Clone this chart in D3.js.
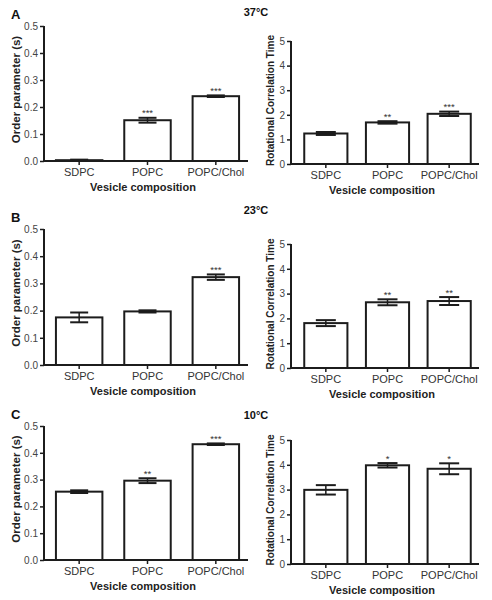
<!DOCTYPE html>
<html>
<head>
<meta charset="utf-8">
<script src="https://cdn.jsdelivr.net/npm/d3@7"></script>
<style>
  html, body { margin: 0; padding: 0; background: #fff; }
  svg { display: block; font-family: "Liberation Sans", Arial, Helvetica, sans-serif; }
</style>
</head>
<body>
<svg id="chart" width="492" height="600"></svg>
<script>
// ---------- data ----------
const categories = ["SDPC", "POPC", "POPC/Chol"];
const panelLetters = ["A", "B", "C"];
const temperatures = ["37°C", "23°C", "10°C"];

const orderTicks = [0, 0.1, 0.2, 0.3, 0.4, 0.5];
const rctTicks = [0, 1, 2, 3, 4, 5];

// Order parameter (s): mean, error, significance per temperature
const order37 = [0.003, 0.151, 0.240];
const order37Err = [0.002, 0.009, 0.003];
const order37Sig = ["", "***", "***"];
const order23 = [0.175, 0.197, 0.323];
const order23Err = [0.018, 0.004, 0.010];
const order23Sig = ["", "", "***"];
const order10 = [0.255, 0.296, 0.432];
const order10Err = [0.005, 0.009, 0.003];
const order10Sig = ["", "**", "***"];

// Rotational correlation time
const rct37 = [1.24, 1.69, 2.04];
const rct37Err = [0.06, 0.05, 0.09];
const rct37Sig = ["", "**", "***"];
const rct23 = [1.81, 2.65, 2.70];
const rct23Err = [0.12, 0.12, 0.16];
const rct23Sig = ["", "**", "**"];
const rct10 = [2.99, 3.98, 3.84];
const rct10Err = [0.19, 0.09, 0.22];
const rct10Sig = ["", "*", "*"];

// ---------- layout ----------
const svg = d3.select("#chart");
const ink = "#1c1c1c";

const rows = [
  { letter: panelLetters[0], temp: temperatures[0], letterY: 19, tempY: 16,
    left:  { vals: order37, err: order37Err, sig: order37Sig, y0: 161, y1: 26 },
    right: { vals: rct37, err: rct37Err, sig: rct37Sig, y0: 164, y1: 41 } },
  { letter: panelLetters[1], temp: temperatures[1], letterY: 222, tempY: 214,
    left:  { vals: order23, err: order23Err, sig: order23Sig, y0: 365, y1: 229 },
    right: { vals: rct23, err: rct23Err, sig: rct23Sig, y0: 368, y1: 244 } },
  { letter: panelLetters[2], temp: temperatures[2], letterY: 419, tempY: 419,
    left:  { vals: order10, err: order10Err, sig: order10Sig, y0: 560, y1: 426 },
    right: { vals: rct10, err: rct10Err, sig: rct10Sig, y0: 564, y1: 440 } }
];

function drawPanel(p, opts) {
  const g = svg.append("g");
  const y = d3.scaleLinear().domain(opts.domain).range([p.y0, p.y1]);
  const x = d3.scaleBand().domain(categories).range(opts.xRange)
    .paddingInner(opts.padIn).paddingOuter(opts.padIn / 2);

  // bars
  g.selectAll("rect.bar").data(categories).join("rect")
    .attr("x", d => x(d))
    .attr("width", x.bandwidth())
    .attr("y", (d, i) => y(p.vals[i]))
    .attr("height", (d, i) => y(0) - y(p.vals[i]))
    .attr("fill", "#fff").attr("stroke", ink).attr("stroke-width", 2);

  // error bars
  const capW = opts.capW;
  categories.forEach((c, i) => {
    const cx = x(c) + x.bandwidth() / 2;
    const hi = y(p.vals[i] + p.err[i]);
    const lo = y(Math.max(0, p.vals[i] - p.err[i]));
    g.append("line").attr("x1", cx).attr("x2", cx).attr("y1", hi).attr("y2", lo)
      .attr("stroke", ink).attr("stroke-width", 1.5);
    [hi, lo].forEach(yy => g.append("line")
      .attr("x1", cx - capW / 2).attr("x2", cx + capW / 2)
      .attr("y1", yy).attr("y2", yy)
      .attr("stroke", ink).attr("stroke-width", 2));
    if (p.sig[i]) {
      g.append("text").attr("x", cx).attr("y", hi - 1.5)
        .attr("text-anchor", "middle").attr("font-size", 9.5)
        .attr("fill", "#333").text(p.sig[i]);
    }
  });

  // y axis
  const yAxis = d3.axisLeft(y).tickValues(opts.ticks).tickFormat(opts.fmt)
    .tickSize(4).tickPadding(2).tickSizeOuter(0);
  const ya = g.append("g").attr("transform", `translate(${opts.axisX},0)`).call(yAxis);
  ya.select(".domain").attr("stroke", ink).attr("stroke-width", 2)
    .attr("d", `M0,${p.y0 + 1}V${p.y1}`);
  ya.selectAll(".tick line").attr("stroke", ink).attr("stroke-width", 1.5);
  ya.selectAll(".tick text").attr("font-size", 10).attr("fill", "#444")
    .attr("font-family", "Liberation Sans, Arial, sans-serif");

  // x axis
  const xAxis = d3.axisBottom(x).tickSize(4).tickPadding(3).tickSizeOuter(0);
  const xa = g.append("g").attr("transform", `translate(0,${p.y0})`).call(xAxis);
  xa.select(".domain").attr("stroke", ink).attr("stroke-width", 2)
    .attr("d", `M${opts.axisX - 1},0H${opts.xEnd}`);
  xa.selectAll(".tick line").attr("stroke", ink).attr("stroke-width", 1.5);
  xa.selectAll(".tick text").attr("font-size", 11).attr("fill", "#333")
    .attr("font-family", "Liberation Sans, Arial, sans-serif");

  // x title
  g.append("text")
    .attr("x", (opts.axisX + opts.xEnd) / 2 - 3)
    .attr("y", p.y0 + 29.5)
    .attr("text-anchor", "middle").attr("font-weight", "bold")
    .attr("font-size", 11).attr("fill", "#222")
    .text("Vesicle composition");

  // y title
  g.append("text")
    .attr("transform", `translate(${opts.titleX},${(p.y0 + p.y1) / 2 - opts.titleShift}) rotate(-90)`)
    .attr("text-anchor", "middle").attr("font-weight", "bold")
    .attr("font-size", opts.titleSize).attr("fill", "#222")
    .text(opts.title);
}

rows.forEach(r => {
  svg.append("text").attr("x", 11).attr("y", r.letterY)
    .attr("font-weight", "bold").attr("font-size", 13).attr("fill", "#111")
    .text(r.letter);
  svg.append("text").attr("x", 256).attr("y", r.tempY)
    .attr("text-anchor", "middle")
    .attr("font-weight", "bold").attr("font-size", 11).attr("fill", "#111")
    .text(r.temp);

  drawPanel(r.left, {
    domain: [0, 0.5], ticks: orderTicks, fmt: d3.format(".1f"),
    xRange: [45, 250], padIn: 0.32, axisX: 44, xEnd: 248, capW: 18,
    title: "Order parameter (s)", titleX: 20, titleSize: 11.5, titleShift: 4
  });
  drawPanel(r.right, {
    domain: [0, 5], ticks: rctTicks, fmt: d3.format("d"),
    xRange: [295, 480], padIn: 0.30, axisX: 291, xEnd: 479, capW: 20,
    title: "Rotational Correlation Time", titleX: 274, titleSize: 10, titleShift: 2
  });
});
</script>
</body>
</html>
